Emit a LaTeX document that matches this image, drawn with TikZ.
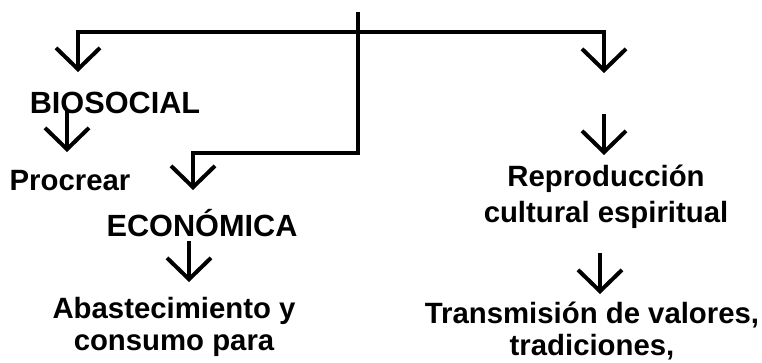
\documentclass[tikz,border=0pt]{standalone}
\usepackage{fontspec}
\setmainfont{Liberation Sans}
\usetikzlibrary{arrows.meta}

\tikzset{
  txt/.style={font=\bfseries\fontsize{22}{24}\selectfont,align=center,inner sep=0pt},
  big/.style={txt,font=\bfseries\fontsize{23}{24}\selectfont},
  arr/.style={line width=3pt,-{Straight Barb[length=16pt,width=33pt]}},
  arrs/.style={line width=3pt,{Straight Barb[length=16pt,width=33pt]}-{Straight Barb[length=16pt,width=33pt]}}
}

\begin{document}
\begin{tikzpicture}[x=0.75pt,y=-0.75pt]
\useasboundingbox (0,0) rectangle (762,362);
% labels
\node[big] (bio) at (115,103) {BIOSOCIAL};
\node[txt] (proc) at (70,181) {Procrear};
\node[big] (eco) at (202,223) {ECONÓMICA};
\node[txt] (abast) at (174,327) {Abastecimiento y\\consumo para};
\node[txt,font=\bfseries\fontsize{22}{27}\selectfont] (repro) at (606,197) {Reproducción\\cultural espiritual};
\node[txt] (trans) at (592,331) {Transmisión de valores,\\tradiciones,};
% corners and ends
\coordinate (root) at (358,12);
\coordinate (hl) at (78,32);
\coordinate (hr) at (604,32);
\coordinate (tb) at (358,153);
\coordinate (bioIn) at (78,72);
\coordinate (repIn) at (604,73);
\coordinate (ecoIn) at (193,190);
\coordinate (bioOut) at (67,110);
\coordinate (procIn) at (67,152);
\coordinate (ecoOut) at (189,241);
\coordinate (abastIn) at (189,282);
\coordinate (repOut) at (604,114);
\coordinate (repIn2) at (604,155);
\coordinate (transOut) at (600,253);
\coordinate (transIn) at (600,294);
% connectors
\draw[arrs] (bioIn) -- (hl) -- (hr) -- (repIn);
\draw[arr] (root) -- (tb) -| (ecoIn);
\draw[arr] (bioOut) -- (procIn);
\draw[arr] (ecoOut) -- (abastIn);
\draw[arr] (repOut) -- (repIn2);
\draw[arr] (transOut) -- (transIn);
\end{tikzpicture}
\end{document}
